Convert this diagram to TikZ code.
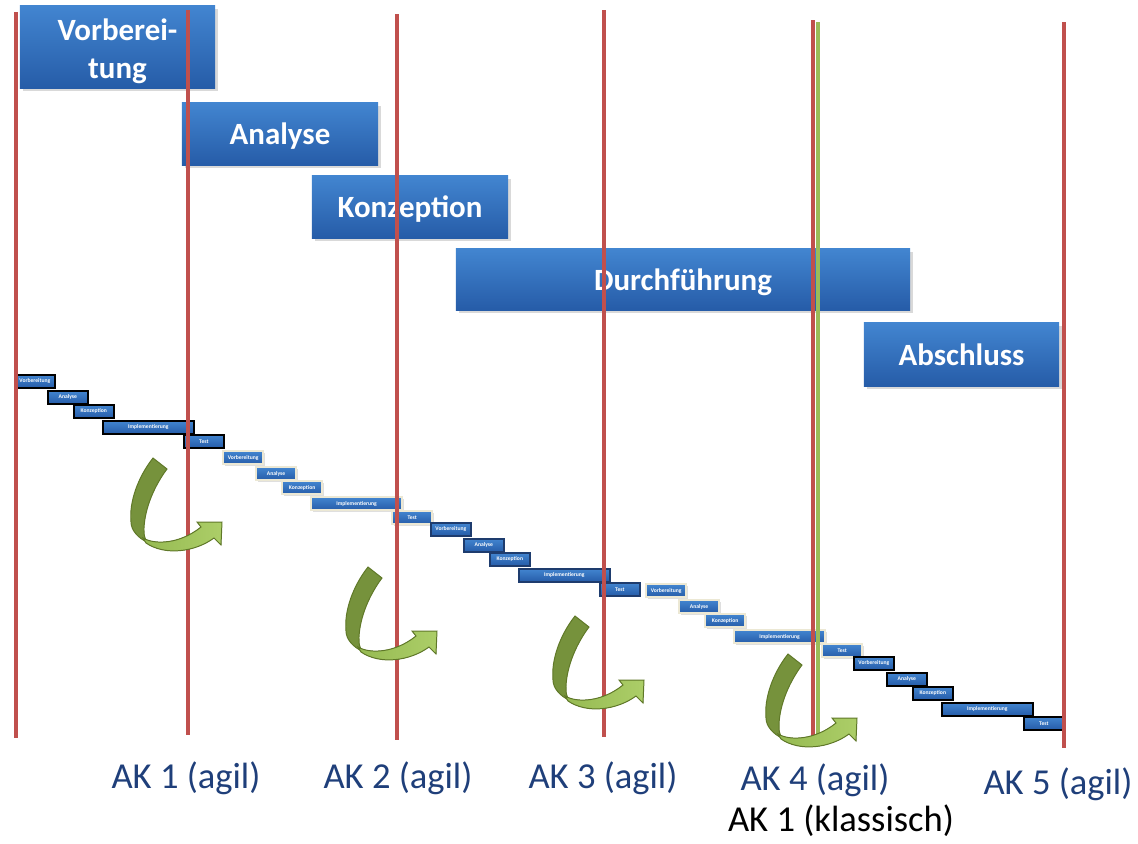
\documentclass[tikz,border=0pt]{standalone}
\usepackage{fontspec}
\setmainfont{Carlito}
\usetikzlibrary{shadows,positioning}

\definecolor{phaseTop}{RGB}{66,133,208}
\definecolor{phaseBot}{RGB}{38,92,168}
\definecolor{akred}{RGB}{192,80,77}
\definecolor{akgreen}{RGB}{155,187,89}
\definecolor{aknavy}{RGB}{31,63,122}
\definecolor{olive}{RGB}{118,146,60}
\definecolor{oliveLight}{RGB}{150,186,82}
\definecolor{oliveLighter}{RGB}{172,206,104}
\definecolor{oliveLine}{RGB}{95,120,40}
\definecolor{beige}{RGB}{236,232,212}
\definecolor{darkframe}{RGB}{30,60,110}

\tikzstyle{phase} = [rectangle, top color=phaseTop, bottom color=phaseBot, text=white, font=\fontsize{22}{27}\selectfont\bfseries, align=center, inner sep=0pt, text depth=0pt, drop shadow={opacity=0.3, shadow xshift=2pt, shadow yshift=-2pt}]
\tikzstyle{task} = [rectangle, top color=phaseTop, bottom color=phaseBot, text=white, font=\fontsize{4}{4}\selectfont\bfseries, minimum height=0.325cm, inner sep=0pt, anchor=north west]
\tikzstyle{tblack} = [task, draw=black, line width=1.2pt]
\tikzstyle{tlight} = [task, draw=beige, line width=1.6pt, drop shadow={opacity=0.25, shadow xshift=1pt, shadow yshift=-1pt}]
\tikzstyle{tdark} = [task, draw=darkframe, line width=1.2pt]
\tikzstyle{milestone} = [draw=akred, line width=3.5pt]
\tikzstyle{ak} = [font=\fontsize{26}{30}\selectfont, text=aknavy, anchor=base]

% curved green arrow, origin = top left of its box
\newcommand{\turn}[2]{
  \begin{scope}[shift={(#1,#2)}, draw=oliveLine, line width=0.7pt]
    \filldraw[fill=olive] (33,6) -- (47,17) .. controls (35,33) and (25,55) .. (24,76)
      .. controls (24,84) .. (27,90) .. controls (18,86) and (11,78) .. (11,70)
      .. controls (9,50) and (18,25) .. (33,6) -- cycle;
    \filldraw[left color=oliveLight, right color=oliveLighter] (23,86) .. controls (35,93) and (60,92) .. (81,75)
      -- (77,70) -- (102,70) -- (101,93) -- (94,86) .. controls (75,100) and (45,104) .. (26,91) -- cycle;
  \end{scope}
}

\begin{document}
\begin{tikzpicture}[x=0.025cm, y=-0.025cm]
  \useasboundingbox (0,0) rectangle (1138,843);

  % phases
  \node (vorb) [phase, minimum width=4.875cm, minimum height=2.05cm] at (117.5,47) {\raisebox{-2pt}{Vorberei-}\\\raisebox{-2pt}{tung}};
  \node (ana) [phase, minimum width=4.9cm, minimum height=1.55cm] at (280,134) {Analyse};
  \node (konz) [phase, minimum width=4.9cm, minimum height=1.55cm] at (410,207) {Konzeption};
  \node (durch) [phase, minimum width=11.35cm, minimum height=1.525cm] at (683,279.5) {Durchführung};
  \node (absch) [phase, minimum width=4.875cm, minimum height=1.575cm] at (961.5,354.5) {Abschluss};

  % sprints
  \foreach \gx/\gy/\gs/\tx/\n in {14/374/tblack/169/1, 222/450/tlight/169/2, 430/522/tdark/169/3, 645/583/tlight/176/4, 853/656/tblack/170/5} {
    \node (v\n) [\gs, minimum width=1cm] at (\gx,\gy) {Vorbereitung};
    \node (a\n) [\gs, minimum width=1cm] at (\gx+33,\gy+16) {Analyse};
    \node (k\n) [\gs, minimum width=1cm] at (\gx+59,\gy+30) {Konzeption};
    \node (i\n) [\gs, minimum width=2.275cm] at (\gx+88,\gy+46) {Implementierung};
    \node (t\n) [\gs, minimum width=1cm] at (\gx+\tx,\gy+60) {Test};
  }

  % milestones
  \foreach \lx/\ly/\le in {16/12/738, 188/10/735, 397/14/740, 604/10/737, 813/20/740, 1064/22/748}
    \draw[milestone] (\lx,\ly) -- (\lx,\le);
  \draw[draw=akgreen, line width=3.5pt] (818,22) -- (818,740);

  % feedback arrows
  \turn{120}{452}
  \turn{335}{561}
  \turn{542}{610}
  \turn{755}{648}

  % labels
  \node (ak1) [ak] at (186,788) {AK 1 (agil)};
  \node (ak2) [ak] at (398,788) {AK 2 (agil)};
  \node (ak3) [ak] at (603,788) {AK 3 (agil)};
  \node (ak4) [ak] at (815,790) {AK 4 (agil)};
  \node (ak5) [ak] at (1058,794) {AK 5 (agil)};
  \node (klass) [ak, text=black] at (841,831) {AK 1 (klassisch)};
\end{tikzpicture}
\end{document}
